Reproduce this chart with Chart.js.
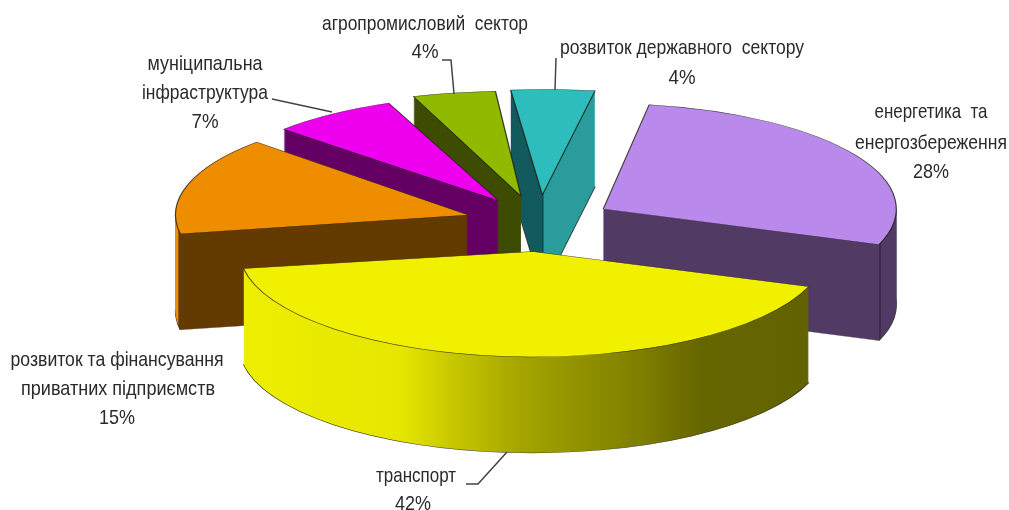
<!DOCTYPE html>
<html>
<head>
<meta charset="utf-8">
<style>
  html, body { margin: 0; background: #fff; overflow: hidden; }
  canvas { display: block; filter: blur(0.5px); }
</style>
<script src="https://cdn.jsdelivr.net/npm/chart.js@4"></script>
</head>
<body>
<canvas id="chart_1" width="1009" height="510"></canvas>
<script>
// data
const categories = [
  'енергетика та енергозбереження',
  'транспорт',
  'розвиток та фінансування приватних підприємств',
  'муніципальна інфраструктура',
  'агропромисловий сектор',
  'розвиток державного сектору'
];
const shares = [28, 42, 15, 7, 4, 4];
const topColors = ['#b98aec', '#f0f000', '#ef8d00', '#ee00ee', '#8fba00', '#2dbdbd'];

// 3d look
const SQUASH = 0.36;
const DEPTH = 96;
const explode = [77, 78, 72, 73, 73, 75];
const drawOrder = [0, 5, 4, 3, 2, 1];
// per slice fit to the old perspective: spin in degrees, widen in x, nudge in px
const spin = [0, -0.3, -1.3, -2.3, 1, 0];
const widen = [1, 1, 1, 1, 1.14, 1.15];
const nudgeX = [0, 3, 0, 1, 0, 3];
const nudgeY = [1, 1.5, 1, 1, 0, 0];
// wall colour stops: [page x, colour]
const wallStops = [
  [[0, '#513a63'], [879, '#513a63'], [880, '#2c1f38'], [881, '#513a63'], [1009, '#513a63']],
  [[243, '#eeee00'], [400, '#e6e600'], [450, '#c8c800'], [522, '#a3a300'], [640, '#7e7e00'], [700, '#666600'], [808, '#626200']],
  [[0, '#ef8d00'], [177, '#ef8d00'], [178, '#633a00'], [1009, '#633a00']],
  [[0, '#640064'], [1009, '#640064']],
  [[0, '#3d4c00'], [1009, '#3d4c00']],
  [[0, '#135a5e'], [542, '#135a5e'], [543, '#0d3c3f'], [544, '#2a9c9c'], [1009, '#2a9c9c']]
];

// label text: [text, centre x, centre y, width]
const labels = [
  ['агропромисловий  сектор', 425, 24, 206],
  ['4%', 425, 52, 27],
  ['розвиток державного  сектору', 682, 48, 244],
  ['4%', 682, 78, 27],
  ['енергетика  та', 931, 112, 113],
  ['енергозбереження', 931, 143, 152],
  ['28%', 931, 172, 36],
  ['муніципальна', 205, 64, 115],
  ['інфраструктура', 205, 93, 126],
  ['7%', 205, 122, 27],
  ['розвиток та фінансування', 117, 360, 213],
  ['приватних підприємств', 118, 389, 194],
  ['15%', 117, 418, 36],
  ['транспорт', 416, 476, 80],
  ['42%', 413, 504, 36]
];
const leaders = [
  [[442, 60], [451, 60], [454, 94]],
  [[556, 58], [555, 90]],
  [[272, 99], [332, 112]],
  [[466, 484], [478, 484], [507, 452]]
];

function drawArc(arc, ctx, fill, stroke, width) {
  const copy = Object.create(arc);
  copy.options = Object.assign({}, arc.options, { backgroundColor: fill, borderColor: stroke, borderWidth: width });
  Chart.elements.ArcElement.prototype.draw.call(copy, ctx);
}

const pie3d = {
  id: 'pie3d',
  beforeDatasetsDraw(chart) {
    const ctx = chart.ctx;
    const arcs = chart.getDatasetMeta(0).data;
    drawOrder.forEach(i => {
      const arc = arcs[i];
      const mid = (arc.startAngle + arc.endAngle) / 2;
      const tipX = arc.x + Math.cos(mid) * explode[i] + nudgeX[i];
      const tipY = arc.y + Math.sin(mid) * explode[i] * SQUASH + nudgeY[i];
      const place = dy => {
        ctx.translate(tipX, tipY + dy);
        ctx.scale(widen[i], SQUASH);
        ctx.rotate(spin[i] * Math.PI / 180);
        ctx.translate(-arc.x, -arc.y);
      };
      const stops = wallStops[i];
      const x0 = stops[0][0], x1 = stops[stops.length - 1][0];
      const toLocal = x => arc.x + (x - tipX) / widen[i];
      const wall = ctx.createLinearGradient(toLocal(x0), 0, toLocal(x1), 0);
      stops.forEach(s => wall.addColorStop((s[0] - x0) / (x1 - x0), s[1]));

      for (let d = DEPTH; d > 0; d--) {
        ctx.save();
        place(d);
        if (d === DEPTH) drawArc(arc, ctx, wall, 'rgba(30,30,20,.8)', 1.2);
        else drawArc(arc, ctx, wall, 'transparent', 0);
        ctx.restore();
      }
      ctx.save();
      place(0);
      drawArc(arc, ctx, topColors[i], 'rgba(30,30,20,.8)', 1.2);
      ctx.restore();
    });

    ctx.save();
    ctx.strokeStyle = '#444';
    ctx.lineWidth = 1.5;
    leaders.forEach(pts => {
      ctx.beginPath();
      pts.forEach((p, k) => k ? ctx.lineTo(p[0], p[1]) : ctx.moveTo(p[0], p[1]));
      ctx.stroke();
    });
    ctx.fillStyle = '#2a2a2a';
    ctx.font = '21px "Liberation Sans"';
    ctx.textAlign = 'center';
    ctx.textBaseline = 'middle';
    labels.forEach(l => ctx.fillText(l[0], l[1], l[2], l[3]));
    ctx.restore();
    return false;
  }
};

new Chart(document.getElementById('chart_1'), {
  type: 'pie',
  data: {
    labels: categories,
    datasets: [{ data: shares, backgroundColor: topColors, borderWidth: 0 }]
  },
  options: {
    responsive: false,
    animation: false,
    rotation: 9,
    radius: 293,
    layout: { padding: { left: 65, bottom: 66 } },
    plugins: { legend: { display: false }, tooltip: { enabled: false } }
  },
  plugins: [pie3d]
});
</script>
</body>
</html>
